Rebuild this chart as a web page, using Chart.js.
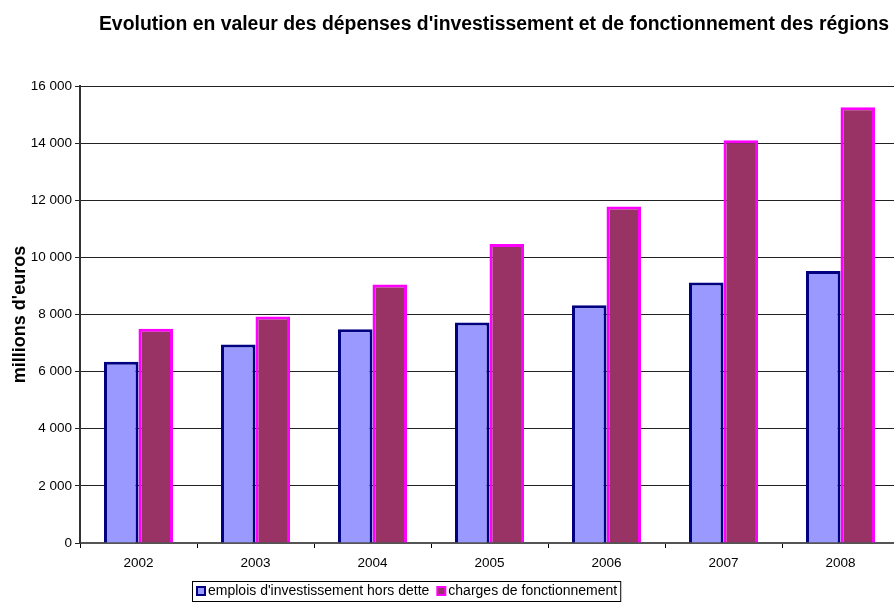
<!DOCTYPE html>
<html>
<head>
<meta charset="utf-8">
<script src="https://cdn.jsdelivr.net/npm/chart.js@4.4.0/dist/chart.umd.min.js"></script>
<style>
  html, body { margin: 0; padding: 0; background: #fff; overflow: hidden; }
  #wrap { width: 910px; height: 603px; }
</style>
</head>
<body>
<div id="wrap"><canvas id="myChart" width="910" height="603"></canvas></div>
<script>
let years = ['2002', '2003', '2004', '2005', '2006', '2007', '2008']
let investissement = [6350, 6950, 7480, 7720, 8320, 9120, 9520]
let fonctionnement = [7500, 7930, 9050, 10470, 11780, 14100, 15260]
let titleText = "Evolution en valeur des dépenses d'investissement et de fonctionnement des régions"
let yTitle = "millions d'euros"
let legendLabels = ["emplois d'investissement hors dette", "charges de fonctionnement"]

let font = 'Arial, "Liberation Sans", sans-serif'

function formatThousands(value) {
    return String(value).replace(/\B(?=(\d{3})+(?!\d))/g, ' ')
}

// title and boxed legend, placed like the Excel original
let decorations = {
    id: 'decorations',
    afterDraw(chart) {
        let ctx = chart.ctx
        ctx.save()
        ctx.fillStyle = '#000'
        ctx.font = 'bold 19.4px ' + font
        ctx.textAlign = 'center'
        ctx.textBaseline = 'middle'
        ctx.fillText(titleText, 494, 25)

        let ds = chart.data.datasets
        ctx.font = '14px ' + font
        ctx.textAlign = 'left'
        let x = 196
        let yMid = 591
        let starts = []
        for (let i = 0; i < ds.length; i++) {
            starts.push(x)
            x += 11 + ctx.measureText(legendLabels[i]).width + 8
        }
        let right = x - 4
        ctx.strokeStyle = '#000'
        ctx.lineWidth = 1
        ctx.strokeRect(192.5, 581.5, right - 192, 20)
        for (let i = 0; i < ds.length; i++) {
            ctx.fillStyle = ds[i].borderColor
            ctx.fillRect(starts[i], yMid - 5, 10, 10)
            ctx.fillStyle = ds[i].backgroundColor
            ctx.fillRect(starts[i] + 2, yMid - 3, 6, 6)
            ctx.fillStyle = '#000'
            ctx.fillText(legendLabels[i], starts[i] + 12, yMid)
        }
        ctx.restore()
    }
}

let data = {
    labels: years,
    datasets: [{
        label: legendLabels[0],
        data: investissement,
        backgroundColor: '#9999FF',
        borderColor: '#000080',
        borderWidth: 3,
    }, {
        label: legendLabels[1],
        data: fonctionnement,
        backgroundColor: '#993366',
        borderColor: '#FF00FF',
        borderWidth: 3,
    }],
}

let config = {
    type: 'bar',
    data: data,
    plugins: [decorations],
    options: {
        responsive: false,
        animation: false,
        categoryPercentage: 0.59,
        barPercentage: 1.0,
        layout: {
            padding: { top: 86, right: 11, bottom: 0, left: 0 },
        },
        plugins: {
            legend: { display: false },
            title: { display: false },
            tooltip: { enabled: false },
        },
        scales: {
            x: {
                afterFit: (scale) => { scale.height = 60 },
                grid: {
                    offset: true,
                    drawOnChartArea: false,
                    drawTicks: true,
                    tickLength: 5,
                    color: '#000',
                },
                border: { color: '#555', width: 2 },
                ticks: {
                    color: '#000',
                    padding: 7,
                    font: { family: font, size: 13.5 },
                },
            },
            y: {
                min: 0,
                max: 16000,
                afterFit: (scale) => { scale.width = 80 },
                grid: {
                    color: '#222',
                    lineWidth: 1,
                    drawTicks: true,
                    tickLength: 5,
                },
                border: { color: '#333', width: 2 },
                ticks: {
                    stepSize: 2000,
                    color: '#000',
                    padding: 3,
                    font: { family: font, size: 13.5 },
                    callback: function (value) {
                        return formatThousands(value)
                    },
                },
                title: {
                    display: true,
                    text: yTitle,
                    color: '#000',
                    padding: { top: 9, bottom: 0 },
                    font: { family: font, size: 18, weight: 'bold' },
                },
            },
        },
    },
}

let myChart = new Chart(document.getElementById('myChart').getContext('2d'), config)
</script>
</body>
</html>
